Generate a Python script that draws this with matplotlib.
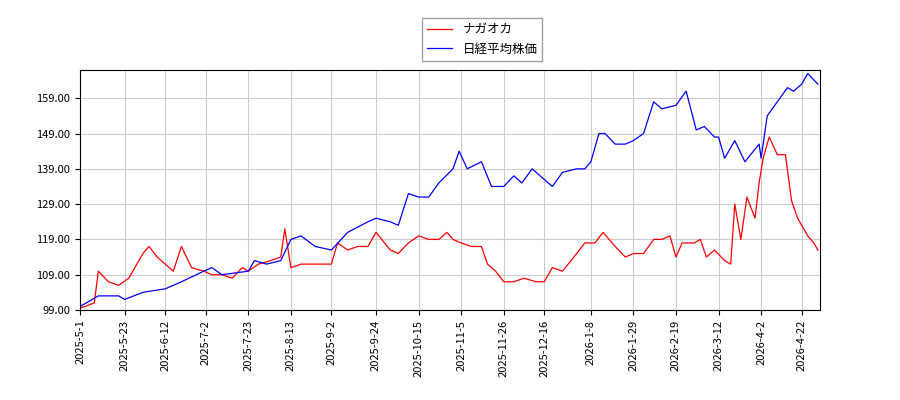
import matplotlib
matplotlib.use("Agg")
import matplotlib.pyplot as plt
import matplotlib.dates as mdates
import pandas as pd

plt.rcParams['font.family'] = ['Noto Sans CJK JP', 'DejaVu Sans']

blue_dates = ["2025-05-01","2025-05-10","2025-05-20","2025-05-23","2025-06-01","2025-06-12","2025-06-20","2025-07-01","2025-07-05","2025-07-10","2025-07-23","2025-07-26","2025-08-01","2025-08-08","2025-08-13","2025-08-18","2025-08-25","2025-09-02","2025-09-10","2025-09-20","2025-09-24","2025-10-01","2025-10-05","2025-10-10","2025-10-15","2025-10-20","2025-10-25","2025-11-01","2025-11-04","2025-11-08","2025-11-15","2025-11-20","2025-11-26","2025-12-01","2025-12-05","2025-12-10","2025-12-16","2025-12-20","2025-12-25","2026-01-01","2026-01-05","2026-01-08","2026-01-12","2026-01-15","2026-01-20","2026-01-25","2026-01-29","2026-02-03","2026-02-08","2026-02-12","2026-02-19","2026-02-24","2026-03-01","2026-03-05","2026-03-10","2026-03-12","2026-03-15","2026-03-20","2026-03-25","2026-04-01","2026-04-02","2026-04-05","2026-04-10","2026-04-15","2026-04-18","2026-04-22","2026-04-25","2026-04-30"]
blue_vals = [100,103,103,102,104,105,107,110,111,109,110,113,112,113,119,120,117,116,121,124,125,124,123,132,131,131,135,139,144,139,141,134,134,137,135,139,136,134,138,139,139,141,149,149,146,146,147,149,158,156,157,161,150,151,148,148,142,147,141,146,142,154,158,162,161,163,166,163]

red_dates = ["2025-05-01","2025-05-08","2025-05-10","2025-05-15","2025-05-20","2025-05-25","2025-06-01","2025-06-04","2025-06-08","2025-06-12","2025-06-16","2025-06-20","2025-06-25","2025-07-01","2025-07-05","2025-07-10","2025-07-15","2025-07-20","2025-07-23","2025-07-28","2025-08-03","2025-08-08","2025-08-10","2025-08-13","2025-08-18","2025-08-25","2025-09-02","2025-09-05","2025-09-10","2025-09-15","2025-09-20","2025-09-24","2025-10-01","2025-10-05","2025-10-10","2025-10-15","2025-10-20","2025-10-25","2025-10-29","2025-11-01","2025-11-05","2025-11-10","2025-11-15","2025-11-18","2025-11-22","2025-11-26","2025-12-01","2025-12-06","2025-12-12","2025-12-16","2025-12-20","2025-12-25","2026-01-01","2026-01-05","2026-01-10","2026-01-14","2026-01-20","2026-01-25","2026-01-29","2026-02-03","2026-02-08","2026-02-12","2026-02-16","2026-02-19","2026-02-22","2026-02-28","2026-03-03","2026-03-06","2026-03-10","2026-03-15","2026-03-18","2026-03-20","2026-03-23","2026-03-26","2026-03-30","2026-04-01","2026-04-03","2026-04-06","2026-04-10","2026-04-14","2026-04-17","2026-04-20","2026-04-25","2026-04-28","2026-04-30"]
red_vals = [99.5,101,110,107,106,108,115,117,114,112,110,117,111,110,109,109,108,111,110,112,113,114,122,111,112,112,112,118,116,117,117,121,116,115,118,120,119,119,121,119,118,117,117,112,110,107,107,108,107,107,111,110,115,118,118,121,117,114,115,115,119,119,120,114,118,118,119,114,116,113,112,129,119,131,125,135,142,148,143,143,130,125,120,118,116]

tick_labels = ["2025-5-1","2025-5-23","2025-6-12","2025-7-2","2025-7-23","2025-8-13","2025-9-2","2025-9-24","2025-10-15","2025-11-5","2025-11-26","2025-12-16","2026-1-8","2026-1-29","2026-2-19","2026-3-12","2026-4-2","2026-4-22"]
yticks = [99, 109, 119, 129, 139, 149, 159]

fig = plt.figure(figsize=(9, 4), dpi=100)
ax = fig.add_axes([0.089, 0.225, 0.822, 0.60])
ax.plot(pd.to_datetime(red_dates), red_vals, color='red', lw=0.9, label='ナガオカ')
ax.plot(pd.to_datetime(blue_dates), blue_vals, color='blue', lw=0.9, label='日経平均株価')
ticks = pd.to_datetime(tick_labels)
ax.set_xticks(ticks)
ax.set_xticklabels(tick_labels, rotation=90, fontsize=8)
ax.set_yticks(yticks)
ax.set_yticklabels([f"{v:.2f}" for v in yticks], fontsize=8)
ax.set_xlim(pd.Timestamp("2025-05-01"), pd.Timestamp("2026-05-01"))
ax.set_ylim(99, 167)
ax.grid(True, color='#cccccc', lw=0.8)
fig.legend(loc='upper center', bbox_to_anchor=(0.536, 0.97), fontsize=9, fancybox=False, edgecolor='#888888')
fig.savefig("out.png")
